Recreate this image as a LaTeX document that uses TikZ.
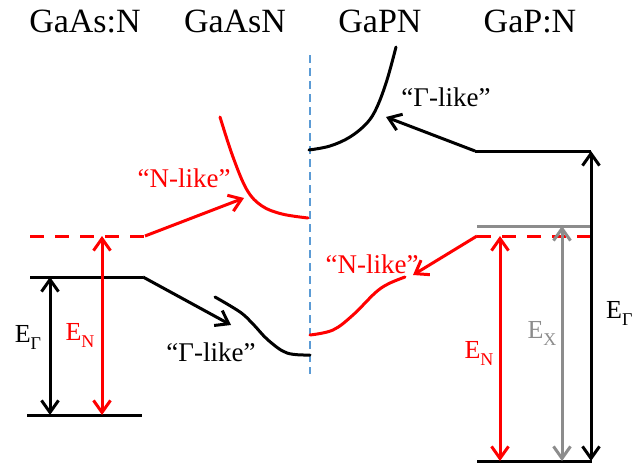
\documentclass[tikz,border=0pt]{standalone}
\usepackage{fontspec}
\setmainfont{Liberation Serif}
\newfontfamily\tnrfont{Liberation Serif}
\usetikzlibrary{arrows.meta}
\definecolor{lred}{RGB}{255,0,0}
\definecolor{lgray}{RGB}{140,140,140}
\definecolor{lblue}{RGB}{91,155,213}
\newcommand\lowsub[1]{\raisebox{-7pt}{\fontsize{18}{18}\selectfont #1}}
\begin{document}
\begin{tikzpicture}[x=1pt,y=-1pt,
  lvl/.style={line width=3pt},
  tipx/.tip={Straight Barb[length=12pt,width=17pt]},
  arr/.style={line width=3pt,-tipx},
  darr/.style={line width=3pt,tipx-tipx},
  crv/.style={line width=3pt,line cap=round},
  titletext/.style={font=\tnrfont\fontsize{34}{40}\selectfont, inner sep=0pt},
  lab/.style={font=\tnrfont\fontsize{27}{32}\selectfont, inner sep=0pt},
  elab/.style={font=\tnrfont\fontsize{26}{30}\selectfont, inner sep=0pt},
  reddash/.style={line width=3pt,lred,dash pattern=on 14pt off 11pt}
]
\useasboundingbox (0,0) rectangle (632,466);

% titles
\node[titletext] (t1) at (85,21) {GaAs:N};
\node[titletext] (t2) at (235,21) {GaAsN};
\node[titletext] (t3) at (380,21) {GaPN};
\node[titletext] (t4) at (530,21) {GaP:N};

% blue dashed divider
\coordinate (bT) at (310,55);
\coordinate (bB) at (310,374);
\draw[lblue,line width=1.5pt,dash pattern=on 8pt off 5pt] (bT) -- (bB);

% ---- left side (GaAs:N) ----
\coordinate (nL1) at (30,236);
\coordinate (nL2) at (145,236);
\coordinate (nLtip) at (244,198);
\coordinate (gL1) at (30,277);
\coordinate (gL2) at (143,277);
\coordinate (gLtip) at (231,325);
\coordinate (vL1) at (27,415);
\coordinate (vL2) at (142,415);
\coordinate (eGt) at (50,277);
\coordinate (eGb) at (50,415);
\coordinate (eNt) at (102,236);
\coordinate (eNb) at (102,415);

\draw[reddash] (nL1) -- (nL2);
\draw[arr,lred] (nL2) -- (nLtip);
\draw[lvl] (gL1) -- (gL2);
\draw[arr] (gL2) -- (gLtip);
\draw[lvl] (vL1) -- (vL2);
\draw[darr] (eGt) -- (eGb);
\draw[darr,lred] (eNt) -- (eNb);

\node[elab] (lEG) at (28,337) {E\lowsub{Γ}};
\node[elab,lred] (lEN) at (80,335) {E\lowsub{N}};

% ---- GaAsN curves ----
\draw[crv,lred] plot[smooth,tension=0.6] coordinates {(220,117) (233,157) (247,190) (262,206) (282,214) (308,218)};
\draw[crv] plot[smooth,tension=0.6] coordinates {(215,297) (240,312) (253,324) (268,340) (287,353) (310,355)};
\node[lab,lred] (nl1) at (184,178) {“N-like”};
\node[lab] (gl1) at (211,352) {“Γ-like”};

% ---- GaPN curves ----
\draw[crv] plot[smooth,tension=0.6] coordinates {(309,150) (330,146) (350,137) (367,123) (377,107) (387,80) (396,47)};
\draw[crv,lred] plot[smooth,tension=0.6] coordinates {(310,335) (333,330) (353,315) (375,293) (388,284) (405,277)};
\node[lab] (gl2) at (446,97) {“Γ-like”};
\node[lab,lred] (nl2) at (372,264) {“N-like”};

% ---- right side (GaP:N) ----
\coordinate (gR1) at (475,151);
\coordinate (gR2) at (591,151);
\coordinate (gRtip) at (386,117);
\coordinate (xR1) at (477,226);
\coordinate (xR2) at (590,226);
\coordinate (nR1) at (477,236);
\coordinate (nR2) at (590,236);
\coordinate (nRtip) at (413,275);
\coordinate (vR1) at (477,461);
\coordinate (vR2) at (592,461);
\coordinate (rNt) at (500,236);
\coordinate (rNb) at (500,461);
\coordinate (rXt) at (562,226);
\coordinate (rXb) at (562,461);
\coordinate (rGt) at (591,151);
\coordinate (rGb) at (591,461);

\draw[lvl] (gR1) -- (gR2);
\draw[arr] (gR1) -- (gRtip);
\draw[lvl,lgray] (xR1) -- (xR2);
\draw[reddash] (nR1) -- (nR2);
\draw[arr,lred] (nR1) -- (nRtip);
\draw[lvl] (vR1) -- (vR2);
\draw[darr,lred] (rNt) -- (rNb);
\draw[darr,lgray] (rXt) -- (rXb);
\draw[darr] (rGt) -- (rGb);

\node[elab,lred] (rEN) at (479,353) {E\lowsub{N}};
\node[elab,lgray] (rEX) at (542,333) {E\lowsub{X}};
\node[elab,anchor=west] (rEG) at (606,313) {E\lowsub{Γ}};
\end{tikzpicture}
\end{document}
